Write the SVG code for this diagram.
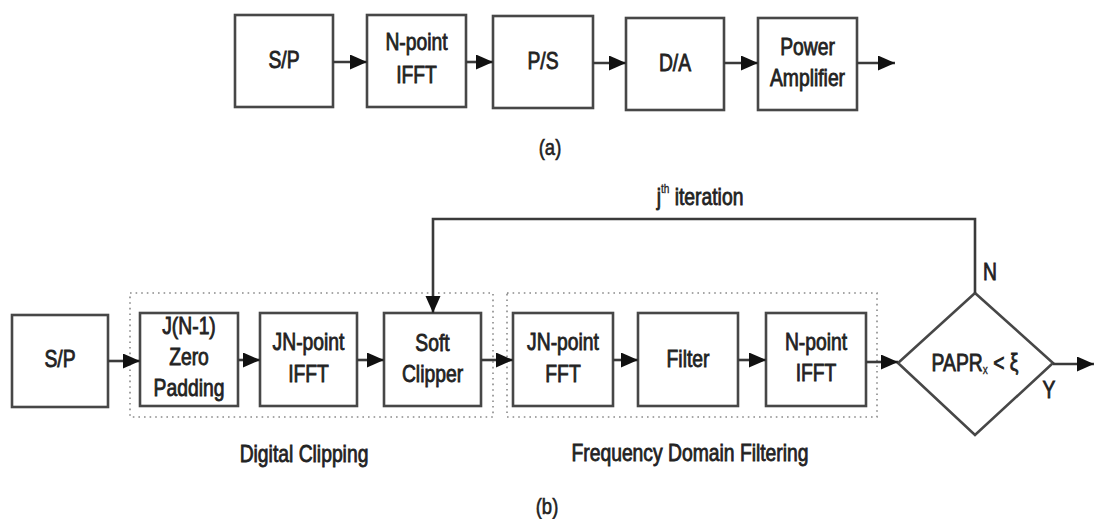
<svg xmlns="http://www.w3.org/2000/svg" width="1094" height="519" viewBox="0 0 1094 519">
  <style>
    .box { fill: #ffffff; stroke: #474747; stroke-width: 2.6; }
    .group { fill: none; stroke: #8a8a8a; stroke-width: 1.6; stroke-dasharray: 1.6 4; }
    .wire { fill: none; stroke: #3a3a3a; stroke-width: 2.6; }
    .lbl { font-family: "Liberation Sans", Arial, sans-serif; font-size: 23px; fill: #222222; stroke: #222222; stroke-width: 0.8; text-anchor: middle; }
    .cap { font-family: "Liberation Sans", Arial, sans-serif; font-size: 22px; fill: #222222; stroke: #222222; stroke-width: 0.6; text-anchor: middle; }
    .sup { font-size: 12px; stroke-width: 0.3; }
  </style>
  <defs>
    <marker id="arrow" markerUnits="userSpaceOnUse" markerWidth="18" markerHeight="16" refX="17" refY="7.5" orient="auto">
      <path d="M0,0 L17,7.5 L0,15 z" fill="#111111"/>
    </marker>
  </defs>

  <rect width="1094" height="519" fill="#ffffff"/>

  <!-- (a) conventional OFDM transmitter chain; labels use a narrowed sans face -->
  <g id="a-sp"><rect class="box" x="235" y="15" width="98" height="92"/><text class="lbl" transform="translate(284 68) scale(0.84 1)">S/P</text></g>
  <g id="a-ifft"><rect class="box" x="367" y="15" width="99" height="92"/><text class="lbl" transform="translate(416.5 50) scale(0.84 1)">N-point</text><text class="lbl" transform="translate(416.5 83) scale(0.84 1)">IFFT</text></g>
  <g id="a-ps"><rect class="box" x="493" y="16" width="100" height="92"/><text class="lbl" transform="translate(543 69) scale(0.84 1)">P/S</text></g>
  <g id="a-da"><rect class="box" x="626" y="18" width="98" height="92"/><text class="lbl" transform="translate(675 71) scale(0.84 1)">D/A</text></g>
  <g id="a-pa"><rect class="box" x="758" y="18" width="99" height="92"/><text class="lbl" transform="translate(807.5 55) scale(0.84 1)">Power</text><text class="lbl" transform="translate(807.5 86) scale(0.84 1)">Amplifier</text></g>
  <text class="cap" transform="translate(550 155) scale(0.84 1)">(a)</text>

  <!-- (b) clipping and filtering with iteration -->
  <g id="grp-clip"><rect class="group" x="130" y="293" width="363" height="124"/><text class="lbl" transform="translate(304 462) scale(0.84 1)">Digital Clipping</text></g>
  <g id="grp-filter"><rect class="group" x="507" y="293" width="370" height="124"/><text class="lbl" transform="translate(690 461) scale(0.84 1)">Frequency Domain Filtering</text></g>

  <g id="b-sp"><rect class="box" x="12" y="315" width="96" height="92"/><text class="lbl" transform="translate(60 367) scale(0.84 1)">S/P</text></g>
  <g id="b-zero"><rect class="box" x="140" y="313" width="98" height="93"/><text class="lbl" transform="translate(189 334) scale(0.84 1)">J(N-1)</text><text class="lbl" transform="translate(189 365) scale(0.84 1)">Zero</text><text class="lbl" transform="translate(189 396) scale(0.84 1)">Padding</text></g>
  <g id="b-ifft"><rect class="box" x="260" y="313" width="97" height="93"/><text class="lbl" transform="translate(308.5 350) scale(0.84 1)">JN-point</text><text class="lbl" transform="translate(308.5 382) scale(0.84 1)">IFFT</text></g>
  <g id="b-clip"><rect class="box" x="384" y="313" width="97" height="93"/><text class="lbl" transform="translate(432.5 351) scale(0.84 1)">Soft</text><text class="lbl" transform="translate(432.5 382) scale(0.84 1)">Clipper</text></g>
  <g id="b-fft"><rect class="box" x="513" y="313" width="100" height="93"/><text class="lbl" transform="translate(563 350) scale(0.84 1)">JN-point</text><text class="lbl" transform="translate(563 382) scale(0.84 1)">FFT</text></g>
  <g id="b-filter"><rect class="box" x="638" y="313" width="100" height="93"/><text class="lbl" transform="translate(688 367) scale(0.84 1)">Filter</text></g>
  <g id="b-nifft"><rect class="box" x="766" y="313" width="100" height="93"/><text class="lbl" transform="translate(816 350) scale(0.84 1)">N-point</text><text class="lbl" transform="translate(816 381) scale(0.84 1)">IFFT</text></g>
  <g id="b-papr">
    <polygon class="box" points="975,293 1053,363 975,435 898,363"/>
    <text class="lbl" transform="translate(975 371) scale(0.84 1)">PAPR<tspan class="sup" dy="3">x</tspan><tspan dy="-3"> &lt; ξ</tspan></text>
    <text class="lbl" transform="translate(990 280) scale(0.84 1)">N</text>
    <text class="lbl" transform="translate(1049 398) scale(0.84 1)">Y</text>
  </g>
  <text class="lbl" transform="translate(700 205) scale(0.84 1)">j<tspan class="sup" dy="-12">th</tspan><tspan dy="12">   iteration</tspan></text>
  <text class="cap" transform="translate(547 514) scale(0.84 1)">(b)</text>

  <g id="connectors">
    <line class="wire" x1="333" y1="62" x2="367" y2="62" marker-end="url(#arrow)"/>
    <line class="wire" x1="466" y1="62" x2="493" y2="62" marker-end="url(#arrow)"/>
    <line class="wire" x1="593" y1="63" x2="626" y2="63" marker-end="url(#arrow)"/>
    <line class="wire" x1="724" y1="63" x2="758" y2="63" marker-end="url(#arrow)"/>
    <line class="wire" x1="857" y1="63" x2="895" y2="63" marker-end="url(#arrow)"/>

    <line class="wire" x1="108" y1="361" x2="140" y2="361" marker-end="url(#arrow)"/>
    <line class="wire" x1="238" y1="360" x2="260" y2="360" marker-end="url(#arrow)"/>
    <line class="wire" x1="357" y1="360" x2="384" y2="360" marker-end="url(#arrow)"/>
    <line class="wire" x1="481" y1="360" x2="513" y2="360" marker-end="url(#arrow)"/>
    <line class="wire" x1="613" y1="360" x2="638" y2="360" marker-end="url(#arrow)"/>
    <line class="wire" x1="738" y1="360" x2="766" y2="360" marker-end="url(#arrow)"/>
    <line class="wire" x1="866" y1="362" x2="898" y2="362" marker-end="url(#arrow)"/>
    <line class="wire" x1="1053" y1="364" x2="1094" y2="364" marker-end="url(#arrow)"/>
    <polyline class="wire" points="975,293 975,219 433,219 433,313" marker-end="url(#arrow)"/>
  </g>
</svg>
